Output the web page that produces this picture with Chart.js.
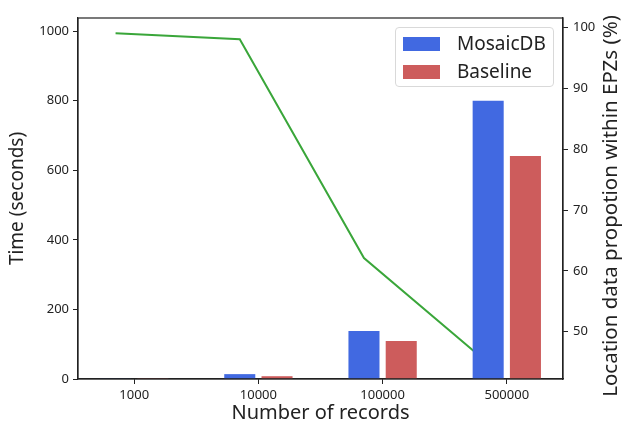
<!DOCTYPE html>
<html>
<head>
<meta charset="utf-8">
<script src="https://cdn.jsdelivr.net/npm/chart.js@4"></script>
<style>
  body { margin: 0; background: #fff; }
  #wrap { position: relative; width: 623px; height: 425px; }
  #legend {
    position: absolute; left: 395px; top: 27px; width: 159px; height: 60px;
    border: 1px solid #d9d9d9; border-radius: 4px; background: rgba(255,255,255,0.8);
    font-family: "Noto Sans", sans-serif; font-size: 19px; color: #222;
    box-sizing: border-box;
  }
  .item { position: absolute; left: 7px; height: 20px; line-height: 20px; }
  .sw { position: absolute; left: 0; top: 3px; width: 37px; height: 14px; }
  .lbl { position: absolute; left: 54px; top: -1px; white-space: nowrap; }
</style>
</head>
<body>
<div id="wrap">
  <canvas id="chart"></canvas>
  <div id="legend"></div>
</div>
<script>
// data
const categories = ['1000', '10000', '100000', '500000'];
const mosaicTimes = [1, 14, 138, 800];
const baselineTimes = [0.5, 8, 109, 641];
const epzProportion = [99.1, 98.1, 62.1, 44.8];
const timeTicks = [0, 200, 400, 600, 800, 1000];
const percentTicks = [50, 60, 70, 80, 90, 100];

const blue = '#4169E1';
const red = '#CD5C5C';
const green = '#3aa63a';
const font = '"Noto Sans", sans-serif';

// the line sits on the MosaicDB bar centres, which are shifted left of the tick
function points(values, shift) {
    return values.map((v, i) => ({ x: i + shift, y: v }));
}

// box around the plot, plus the right axis title reading bottom to top
const framePlugin = {
    id: 'frame',
    afterDraw(chart) {
        const a = chart.chartArea;
        const ctx = chart.ctx;
        ctx.save();
        ctx.strokeStyle = '#222';
        ctx.lineWidth = 1.2;
        ctx.strokeRect(a.left, a.top, a.right - a.left, a.bottom - a.top);
        ctx.translate(611, 206);
        ctx.rotate(-Math.PI / 2);
        ctx.fillStyle = '#222';
        ctx.font = '20.5px ' + font;
        ctx.textAlign = 'center';
        ctx.textBaseline = 'middle';
        ctx.fillText('Location data propotion within EPZs (%)', 0, 0);
        ctx.restore();
    }
};

const ctx = document.getElementById('chart').getContext('2d');
const chart = new Chart(ctx, {
    data: {
        datasets: [
            {
                type: 'bar',
                label: 'MosaicDB',
                data: points(mosaicTimes, 0),
                backgroundColor: blue,
                yAxisID: 'y',
                order: 1,
                categoryPercentage: 0.6,
                barPercentage: 0.8333
            },
            {
                type: 'bar',
                label: 'Baseline',
                data: points(baselineTimes, 0),
                backgroundColor: red,
                yAxisID: 'y',
                order: 1,
                categoryPercentage: 0.6,
                barPercentage: 0.8333
            },
            {
                type: 'line',
                label: 'EPZ proportion',
                data: points(epzProportion, -0.15),
                borderColor: green,
                borderWidth: 2,
                pointRadius: 0,
                tension: 0,
                yAxisID: 'y1',
                order: 5
            }
        ]
    },
    options: {
        responsive: true,
        maintainAspectRatio: false,
        animation: false,
        layout: { padding: { top: 18, left: 0, right: 0, bottom: 0 } },
        plugins: { legend: { display: false }, tooltip: { enabled: false } },
        scales: {
            x: {
                type: 'linear',
                bounds: 'data',
                offset: false,
                min: -0.4525,
                max: 3.4525,
                afterBuildTicks: axis => { axis.ticks = categories.map((c, i) => ({ value: i })); },
                afterFit: axis => { axis.height = 46; },
                ticks: {
                    callback: v => categories[v],
                    font: { family: font, size: 13 },
                    color: '#222',
                    padding: 3,
                    maxRotation: 0
                },
                grid: { offset: false, drawOnChartArea: false, tickLength: 5, tickColor: '#222' },
                border: { color: '#222', width: 1.2 },
                title: {
                    display: true,
                    text: 'Number of records',
                    font: { family: font, size: 20 },
                    color: '#222',
                    padding: { top: 0, bottom: 0 }
                }
            },
            y: {
                type: 'linear',
                position: 'left',
                bounds: 'data',
                min: 0,
                max: 1037.6,
                afterBuildTicks: axis => { axis.ticks = timeTicks.map(v => ({ value: v })); },
                afterFit: axis => { axis.width = 78; },
                ticks: {
                    callback: v => String(v),
                    font: { family: font, size: 13 },
                    color: '#222',
                    padding: 4
                },
                grid: { drawOnChartArea: false, tickLength: 5, tickColor: '#222' },
                border: { color: '#222', width: 1.2 },
                title: {
                    display: true,
                    text: 'Time (seconds)',
                    font: { family: font, size: 19 },
                    color: '#222',
                    padding: { top: 6, bottom: 0 }
                }
            },
            y1: {
                type: 'linear',
                position: 'right',
                bounds: 'data',
                min: 42.2,
                max: 101.6,
                afterBuildTicks: axis => { axis.ticks = percentTicks.map(v => ({ value: v })); },
                afterFit: axis => { axis.width = 60; },
                ticks: {
                    callback: v => String(v),
                    font: { family: font, size: 13 },
                    color: '#222',
                    padding: 5
                },
                grid: { drawOnChartArea: false, tickLength: 5, tickColor: '#222' },
                border: { color: '#222', width: 1.2 }
            }
        }
    },
    plugins: [framePlugin]
});

// legend built from the bar datasets
const legend = document.getElementById('legend');
chart.data.datasets.filter(d => d.type === 'bar').forEach((d, i) => {
    const item = document.createElement('div');
    item.className = 'item';
    item.style.top = (6 + i * 28) + 'px';
    item.innerHTML = '<span class="sw" style="background:' + d.backgroundColor + '"></span><span class="lbl">' + d.label + '</span>';
    legend.appendChild(item);
});
</script>
</body>
</html>
